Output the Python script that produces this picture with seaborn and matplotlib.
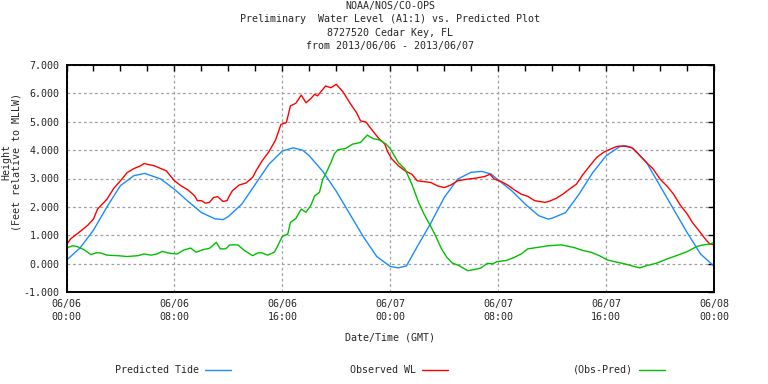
import matplotlib
matplotlib.use("Agg")
import matplotlib.pyplot as plt
import seaborn as sns
import pandas as pd
from matplotlib.ticker import MultipleLocator

# ---------------- data (hours since 2013/06/06 00:00 GMT, feet) ----------------
pred_hours = [0, 1, 2, 3, 4, 5, 5.8, 7, 8, 9, 10, 11, 11.6, 12, 13, 14, 15, 16, 16.8,
              17.5, 18, 19, 20, 21, 22, 23, 24, 24.6, 25.2, 26, 27, 28, 29, 30, 30.8,
              31.5, 32, 33, 34, 35, 35.7, 36, 37, 38, 39, 40, 41, 41.5, 42, 43, 44, 45,
              46, 47, 48]
pred_vals = [0.12, 0.55, 1.18, 2.0, 2.75, 3.1, 3.18, 2.98, 2.62, 2.2, 1.8, 1.58, 1.55,
             1.66, 2.1, 2.8, 3.5, 3.97, 4.08, 4.0, 3.8, 3.25, 2.55, 1.75, 0.95, 0.25,
             -0.1, -0.15, -0.08, 0.6, 1.42, 2.33, 2.98, 3.22, 3.25, 3.15, 2.95, 2.57,
             2.1, 1.69, 1.57, 1.6, 1.8, 2.45, 3.2, 3.8, 4.12, 4.15, 4.06, 3.56, 2.74,
             1.92, 1.1, 0.34, -0.09]

obs_hours = [0, 0.3, 1, 1.55, 2, 2.3, 3, 3.5, 4, 4.5, 5, 5.5, 5.75, 6, 6.5, 7, 7.4, 8,
             8.5, 9, 9.5, 9.7, 10, 10.3, 10.6, 10.9, 11.2, 11.6, 11.9, 12.1, 12.3, 12.8,
             13.3, 13.8, 14.05, 14.5, 15.0, 15.5, 15.9, 16.3, 16.6, 17.0, 17.4, 17.75,
             18.1, 18.4, 18.6, 19.0, 19.2, 19.6, 20.0, 20.5, 21.0, 21.5, 21.8, 22.2,
             22.6, 23.1, 23.6, 23.8, 24.1, 24.6, 25.1, 25.6, 26.0, 27.0, 27.5, 28.0,
             28.5, 29.0, 29.75, 30.3, 31.0, 31.4, 31.7, 32.2, 32.7, 33.2, 33.7, 34.2,
             34.7, 35.2, 35.5, 35.8, 36.3, 36.8, 37.3, 37.8, 38.3, 38.8, 39.3, 39.8,
             40.3, 40.8, 41.3, 41.9, 42.4, 43.0, 43.5, 44.0, 44.5, 45.0, 45.5, 46.0,
             46.4, 46.9, 47.4, 47.7, 48.0]
obs_vals = [0.66, 0.87, 1.13, 1.34, 1.57, 1.92, 2.27, 2.65, 2.92, 3.21, 3.35, 3.45, 3.53,
            3.50, 3.45, 3.35, 3.27, 2.92, 2.74, 2.6, 2.39, 2.22, 2.22, 2.13, 2.16, 2.33,
            2.36, 2.19, 2.22, 2.41, 2.57, 2.77, 2.84, 3.04, 3.27, 3.62, 3.94, 4.36, 4.91,
            4.97, 5.56, 5.65, 5.94, 5.67, 5.81, 5.97, 5.91, 6.14, 6.26, 6.2, 6.32, 6.05,
            5.67, 5.32, 5.03, 4.99, 4.74, 4.44, 4.21, 3.95, 3.7, 3.45, 3.27, 3.15, 2.92,
            2.86, 2.74, 2.68, 2.77, 2.92, 2.98, 3.01, 3.07, 3.15, 2.98, 2.9, 2.77, 2.6,
            2.45, 2.37, 2.22, 2.18, 2.16, 2.2, 2.3, 2.45, 2.63, 2.8, 3.15, 3.45, 3.74,
            3.92, 4.03, 4.13, 4.15, 4.09, 3.86, 3.56, 3.33, 2.98, 2.74, 2.45, 2.06, 1.76,
            1.45, 1.15, 0.84, 0.69, 0.66]

res_hours = [0, 0.45, 0.8, 1.3, 1.8, 2.2, 2.5, 3.0, 3.8, 4.5, 5.3, 5.75, 6.25, 6.7, 7.1,
             7.7, 8.2, 8.7, 9.2, 9.6, 10.1, 10.6, 11.1, 11.4, 11.8, 12.1, 12.7, 13.2,
             13.8, 14.2, 14.5, 14.9, 15.4, 15.6, 16.0, 16.4, 16.6, 17.0, 17.4, 17.75,
             18.1, 18.4, 18.75, 19.0, 19.2, 19.6, 19.85, 20.1, 20.7, 21.2, 21.8, 22.3,
             22.7, 23.2, 23.7, 24.0, 24.6, 25.1, 25.6, 26.1, 26.5, 26.9, 27.3, 27.8,
             28.2, 28.6, 29.1, 29.75, 30.2, 30.7, 31.2, 31.6, 31.9, 32.6, 33.2, 33.7,
             34.2, 34.9, 35.7, 36.7, 37.6, 38.3, 38.9, 39.5, 40.1, 40.8, 41.4, 42.0,
             42.5, 43.0, 43.7, 44.5, 45.2, 46.0, 46.7, 47.2, 47.7, 48.0]
res_vals = [0.55, 0.63, 0.6, 0.49, 0.32, 0.38, 0.38, 0.30, 0.28, 0.25, 0.28, 0.34, 0.30,
            0.34, 0.43, 0.36, 0.34, 0.48, 0.55, 0.40, 0.49, 0.54, 0.75, 0.52, 0.52, 0.66,
            0.66, 0.46, 0.28, 0.38, 0.38, 0.30, 0.40, 0.57, 0.96, 1.04, 1.45, 1.59, 1.92,
            1.81, 2.04, 2.39, 2.51, 2.98, 3.15, 3.56, 3.86, 4.01, 4.06, 4.21, 4.27, 4.53,
            4.41, 4.36, 4.21, 4.05, 3.56, 3.33, 2.80, 2.16, 1.75, 1.40, 1.04, 0.52, 0.22,
            0.02, -0.07, -0.25, -0.21, -0.16, 0.01, -0.01, 0.07, 0.11, 0.22, 0.34, 0.52,
            0.57, 0.63, 0.66, 0.57, 0.46, 0.40, 0.28, 0.13, 0.05, -0.01, -0.09, -0.15,
            -0.07, 0.01, 0.16, 0.28, 0.42, 0.60, 0.66, 0.69, 0.75]

x_tick_hours = [0, 8, 16, 24, 32, 40, 48]
x_tick_labels = ["06/06\n00:00", "06/06\n08:00", "06/06\n16:00", "06/07\n00:00",
                 "06/07\n08:00", "06/07\n16:00", "06/08\n00:00"]
y_ticks = [-1, 0, 1, 2, 3, 4, 5, 6, 7]
y_tick_labels = ["-1.000", "0.000", "1.000", "2.000", "3.000", "4.000", "5.000",
                 "6.000", "7.000"]
title_lines = ["NOAA/NOS/CO-OPS",
               "Preliminary  Water Level (A1:1) vs. Predicted Plot",
               "8727520 Cedar Key, FL",
               "from 2013/06/06 - 2013/06/07"]
series_names = ["Predicted Tide", "Observed WL", "(Obs-Pred)"]
colors = ["#1a8cff", "#ff0000", "#00c000"]

# ---------------- figure ----------------
sns.set_style("white")
plt.rcParams["font.family"] = ["DejaVu Sans Mono", "DejaVu Sans"]
FS = 7.2

W, H = 768, 384
fig = plt.figure(figsize=(W / 100, H / 100), dpi=100)
ax = fig.add_axes([66.5 / W, 1 - 292 / H, (714 - 66.5) / W, (292 - 65) / H])

pred_df = pd.DataFrame({"hour": pred_hours, "ft": pred_vals})
obs_df = pd.DataFrame({"hour": obs_hours, "ft": obs_vals})
res_df = pd.DataFrame({"hour": res_hours, "ft": res_vals})

sns.lineplot(data=pred_df, x="hour", y="ft", ax=ax, color=colors[0], lw=1.0,
             estimator=None, label=series_names[0])
sns.lineplot(data=obs_df, x="hour", y="ft", ax=ax, color=colors[1], lw=1.0,
             estimator=None, label=series_names[1])
sns.lineplot(data=res_df, x="hour", y="ft", ax=ax, color=colors[2], lw=1.0,
             estimator=None, label=series_names[2])

ax.set_xlim(0, 48)
ax.set_ylim(-1, 7)
ax.set_xticks(x_tick_hours)
ax.set_xticklabels(x_tick_labels, fontsize=FS, linespacing=1.35)
ax.xaxis.set_minor_locator(MultipleLocator(2))
ax.set_yticks(y_ticks)
ax.set_yticklabels(y_tick_labels, fontsize=FS)
ax.tick_params(axis="both", which="both", direction="in", top=True, right=True,
               length=4, width=1, color="black")
ax.tick_params(axis="x", which="major", pad=5)
ax.tick_params(axis="y", which="major", pad=5)
ax.grid(True, which="major", color="#a0a0a0", linestyle=(0, (2.2, 2.2)), linewidth=0.9)
for s in ax.spines.values():
    s.set_color("black")
    s.set_linewidth(1.4)
ax.set_xlabel("")
ax.set_ylabel("")
ax.get_legend().remove()

# titles
for i, t in enumerate(title_lines):
    fig.text(390 / W, 1 - (6.5 + 13 * i) / H, t, ha="center", va="center", fontsize=FS)

fig.text(390 / W, 1 - 338 / H, "Date/Time (GMT)", ha="center", va="center", fontsize=FS)
fig.text(17 / W, 1 - 162 / H, "(Feet relative to MLLW)", rotation=90, ha="center",
         va="center", fontsize=FS)
fig.text(6 / W, 1 - 162 / H, "Height", rotation=90, ha="center", va="center", fontsize=FS)

# legend entries: text followed by line sample
handles = ax.get_lines()[:3]
right_edges = [231, 448, 665]
for h, name, xr in zip(handles, series_names, right_edges):
    fig.legend([h], [name], loc="center right", bbox_to_anchor=(xr / W, 1 - 370 / H),
               frameon=False, markerfirst=False, fontsize=FS, borderpad=0,
               borderaxespad=0, handlelength=2.6, handletextpad=0.6)

fig.savefig("out.png", dpi=100)
